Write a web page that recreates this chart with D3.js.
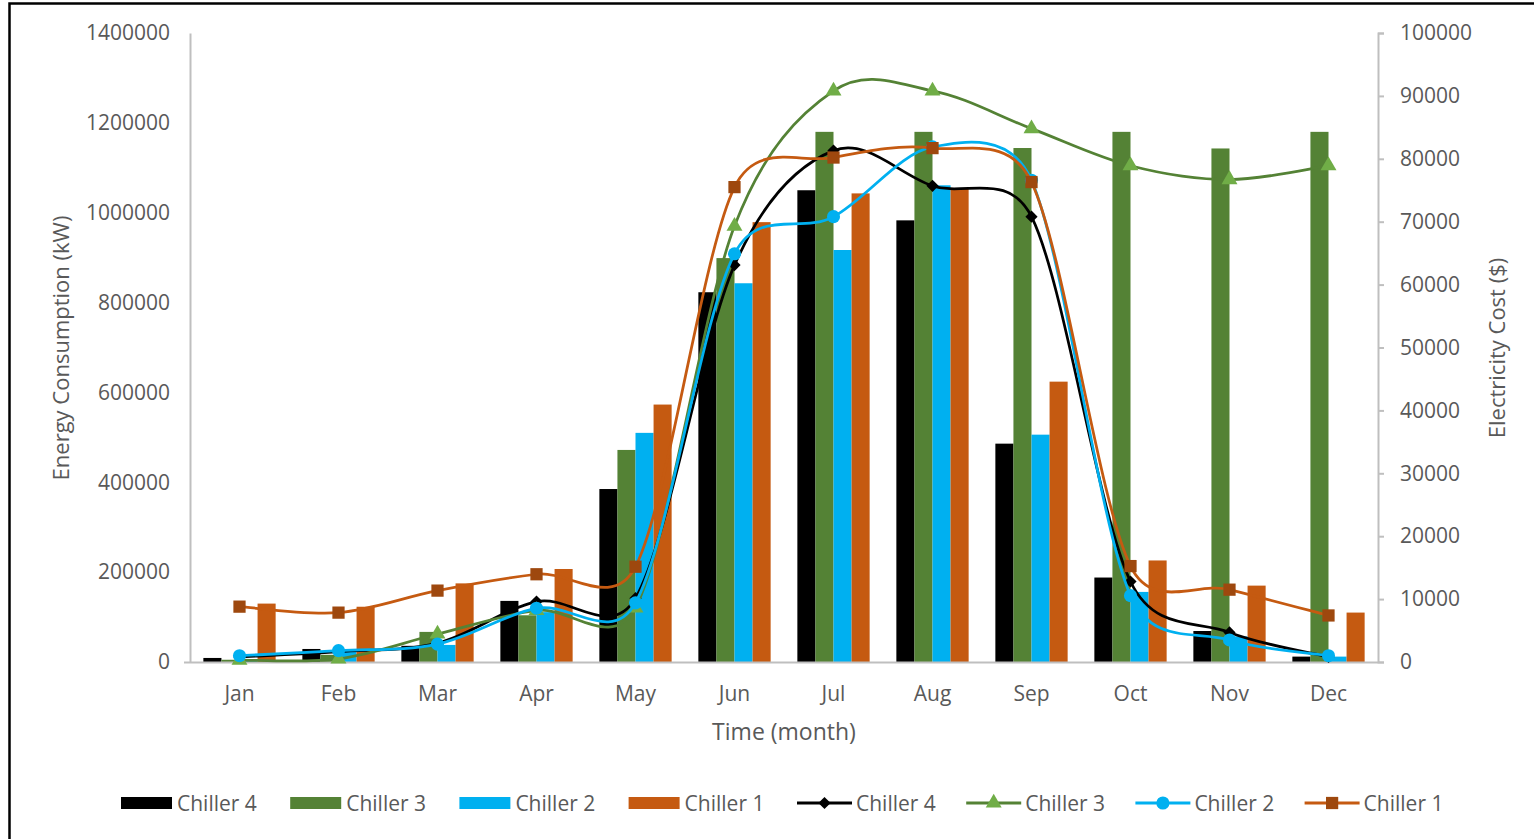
<!DOCTYPE html>
<html>
<head>
<meta charset="utf-8">
<script src="https://cdn.jsdelivr.net/npm/d3@7"></script>
<style>
  html, body { margin: 0; padding: 0; background: #fff; }
  svg { display: block; font-family: "Open Sans", "Noto Sans", sans-serif; }
</style>
</head>
<body>
<svg id="chart" width="1534" height="839"></svg>
<script>
// Monthly energy consumption (bars, left axis) and electricity cost (lines, right axis)
const months = ["Jan", "Feb", "Mar", "Apr", "May", "Jun", "Jul", "Aug", "Sep", "Oct", "Nov", "Dec"];
const chillers = ["Chiller 4", "Chiller 3", "Chiller 2", "Chiller 1"];

// Energy consumption (kW)
const energyChiller4 = [9000, 29000, 36000, 136000, 385000, 823000, 1050000, 983000, 486000, 188000, 69000, 12000];
const energyChiller3 = [5000, 16000, 67000, 104000, 472000, 899000, 1180000, 1180000, 1144000, 1180000, 1143000, 1180000];
const energyChiller2 = [5000, 27000, 38000, 111000, 510000, 843000, 917000, 1061000, 506000, 156000, 57000, 12000];
const energyChiller1 = [130000, 123000, 175000, 207000, 573000, 979000, 1043000, 1054000, 624000, 226000, 170000, 110000];

// Electricity cost ($)
const costChiller4 = [800, 1650, 3000, 9600, 10150, 63100, 81300, 75700, 70800, 12800, 4700, 800];
const costChiller3 = [300, 500, 4450, 8200, 8600, 69300, 90800, 90800, 84800, 78900, 76700, 78900];
const costChiller2 = [1000, 1800, 2850, 8550, 9400, 64900, 70800, 81900, 76600, 10550, 3500, 1000];
const costChiller1 = [8800, 7850, 11350, 13950, 15150, 75500, 80200, 81700, 76300, 15250, 11500, 7400];

const leftTicks = [0, 200000, 400000, 600000, 800000, 1000000, 1200000, 1400000];
const rightTicks = [0, 10000, 20000, 30000, 40000, 50000, 60000, 70000, 80000, 90000, 100000];

const energySeries = [energyChiller4, energyChiller3, energyChiller2, energyChiller1];
const costSeries = [costChiller4, costChiller3, costChiller2, costChiller1];

const barColors = ["#000000", "#548235", "#00b0f0", "#c55a11"];
const lineColors = ["#000000", "#548235", "#00b0f0", "#c55a11"];
const markerFill = ["#000000", "#70ad47", "#00b0f0", "#9e480e"];
const markerShapes = [d3.symbolDiamond2, d3.symbolTriangle, d3.symbolCircle, d3.symbolSquare];
const markerSizes = [95, 110, 135, 150];

const textColor = "#595959";
const axisColor = "#bfbfbf";

// Smoothed line: Catmull-Rom style Bezier segments whose control arms
// are limited to half the segment length, so steep neighbours do not
// make flat stretches bulge.
function curveSmoothLimited(context) {
  return {
    areaStart() {}, areaEnd() {},
    lineStart() { this._p = []; },
    point(px, py) { this._p.push([+px, +py]); },
    lineEnd() {
      const p = this._p, n = p.length;
      if (!n) return;
      context.moveTo(p[0][0], p[0][1]);
      const limit = (v, maxLen) => {
        const len = Math.hypot(v[0], v[1]);
        return len > maxLen ? [v[0] * maxLen / len, v[1] * maxLen / len] : v;
      };
      for (let i = 0; i < n - 1; i++) {
        const p0 = p[Math.max(i - 1, 0)], p1 = p[i], p2 = p[i + 1], p3 = p[Math.min(i + 2, n - 1)];
        const seg = Math.hypot(p2[0] - p1[0], p2[1] - p1[1]);
        const a = limit([(p2[0] - p0[0]) / 6, (p2[1] - p0[1]) / 6], seg * 0.5);
        const b = limit([(p3[0] - p1[0]) / 6, (p3[1] - p1[1]) / 6], seg * 0.5);
        context.bezierCurveTo(p1[0] + a[0], p1[1] + a[1], p2[0] - b[0], p2[1] - b[1], p2[0], p2[1]);
      }
    }
  };
}

const svg = d3.select("#chart");

// outer frame
svg.append("rect")
  .attr("x", 9.5).attr("y", 3.5)
  .attr("width", 1540).attr("height", 850)
  .attr("fill", "none").attr("stroke", "#000").attr("stroke-width", 2.5);

const plot = { left: 190, right: 1378, top: 33, bottom: 662 };

const x = d3.scaleBand().domain(months).range([plot.left, plot.right]).paddingInner(0.27).paddingOuter(0.135);
const xInner = d3.scaleBand().domain(chillers).range([0, x.bandwidth()]);
const yLeft = d3.scaleLinear().domain([0, 1400000]).range([plot.bottom, plot.top]);
const yRight = d3.scaleLinear().domain([0, 100000]).range([plot.bottom, plot.top]);

// bars
const barG = svg.append("g");
chillers.forEach((name, i) => {
  barG.append("g").selectAll("rect")
    .data(energySeries[i])
    .join("rect")
    .attr("x", (d, j) => x(months[j]) + xInner(name))
    .attr("y", d => yLeft(d))
    .attr("width", xInner.bandwidth())
    .attr("height", d => plot.bottom - yLeft(d))
    .attr("fill", barColors[i]);
});

// x axis line
svg.append("line")
  .attr("x1", plot.left).attr("x2", plot.right)
  .attr("y1", plot.bottom + 0.5).attr("y2", plot.bottom + 0.5)
  .attr("stroke", axisColor).attr("stroke-width", 2);

// left axis
const leftAxis = svg.append("g")
  .attr("transform", `translate(${plot.left},0)`)
  .call(d3.axisLeft(yLeft).tickValues(leftTicks).tickSize(0).tickPadding(20).tickFormat(d3.format("d")));
leftAxis.select(".domain").attr("stroke", axisColor).attr("stroke-width", 2);
leftAxis.selectAll("text").attr("fill", textColor).style("font-size", "21px").style("font-family", "'Open Sans'");
svg.append("line")
  .attr("x1", plot.left - 6).attr("x2", plot.left)
  .attr("y1", plot.bottom + 0.5).attr("y2", plot.bottom + 0.5)
  .attr("stroke", axisColor).attr("stroke-width", 2);

// right axis
const rightAxis = svg.append("g")
  .attr("transform", `translate(${plot.right},0)`)
  .call(d3.axisRight(yRight).tickValues(rightTicks).tickSize(6).tickPadding(16).tickSizeOuter(6).tickFormat(d3.format("d")));
rightAxis.select(".domain").attr("stroke", axisColor).attr("stroke-width", 2);
rightAxis.selectAll(".tick line").attr("stroke", axisColor).attr("stroke-width", 2);
rightAxis.selectAll("text").attr("fill", textColor).style("font-size", "21px").style("font-family", "'Open Sans'");

// month labels
svg.append("g").selectAll("text")
  .data(months)
  .join("text")
  .attr("x", d => x(d) + x.bandwidth() / 2)
  .attr("y", 701)
  .attr("text-anchor", "middle")
  .attr("fill", textColor)
  .style("font-size", "21px")
  .text(d => d);

// axis titles
svg.append("text")
  .attr("x", 784).attr("y", 740)
  .attr("text-anchor", "middle")
  .attr("fill", textColor)
  .style("font-size", "23px")
  .text("Time (month)");

svg.append("text")
  .attr("transform", "translate(69,348) rotate(-90)")
  .attr("text-anchor", "middle")
  .attr("fill", textColor)
  .style("font-size", "22px")
  .text("Energy Consumption (kW)");

svg.append("text")
  .attr("transform", "translate(1505,348) rotate(-90)")
  .attr("text-anchor", "middle")
  .attr("fill", textColor)
  .style("font-size", "22px")
  .text("Electricity Cost ($)");

// smoothed cost lines with markers
const cx = j => x(months[j]) + x.bandwidth() / 2;
const line = d3.line()
  .x((d, j) => cx(j))
  .y(d => yRight(d))
  .curve(curveSmoothLimited);

const lineG = svg.append("g");
chillers.forEach((name, i) => {
  const g = lineG.append("g");
  g.append("path")
    .datum(costSeries[i])
    .attr("d", line)
    .attr("fill", "none")
    .attr("stroke", lineColors[i])
    .attr("stroke-width", 2.75);
  g.selectAll("path.marker")
    .data(costSeries[i])
    .join("path")
    .attr("class", "marker")
    .attr("transform", (d, j) => `translate(${cx(j)},${yRight(d)})`)
    .attr("d", d3.symbol().type(markerShapes[i]).size(markerSizes[i]))
    .attr("fill", markerFill[i]);
});

// legend
const legend = svg.append("g");
const legendY = 803;
const legendStep = 169.2;
chillers.forEach((name, i) => {
  const lx = 121 + i * legendStep;
  legend.append("rect")
    .attr("x", lx).attr("y", legendY - 6)
    .attr("width", 51).attr("height", 12)
    .attr("fill", barColors[i]);
  legend.append("text")
    .attr("x", lx + 56).attr("y", legendY + 7.5)
    .attr("fill", textColor)
    .style("font-size", "21px")
    .text(name);
});
chillers.forEach((name, i) => {
  const lx = 797 + i * legendStep;
  legend.append("line")
    .attr("x1", lx).attr("x2", lx + 55)
    .attr("y1", legendY).attr("y2", legendY)
    .attr("stroke", lineColors[i]).attr("stroke-width", 3);
  legend.append("path")
    .attr("transform", `translate(${lx + 27.5},${legendY})`)
    .attr("d", d3.symbol().type(markerShapes[i]).size(markerSizes[i]))
    .attr("fill", markerFill[i]);
  legend.append("text")
    .attr("x", lx + 59).attr("y", legendY + 7.5)
    .attr("fill", textColor)
    .style("font-size", "21px")
    .text(name);
});
</script>
</body>
</html>
